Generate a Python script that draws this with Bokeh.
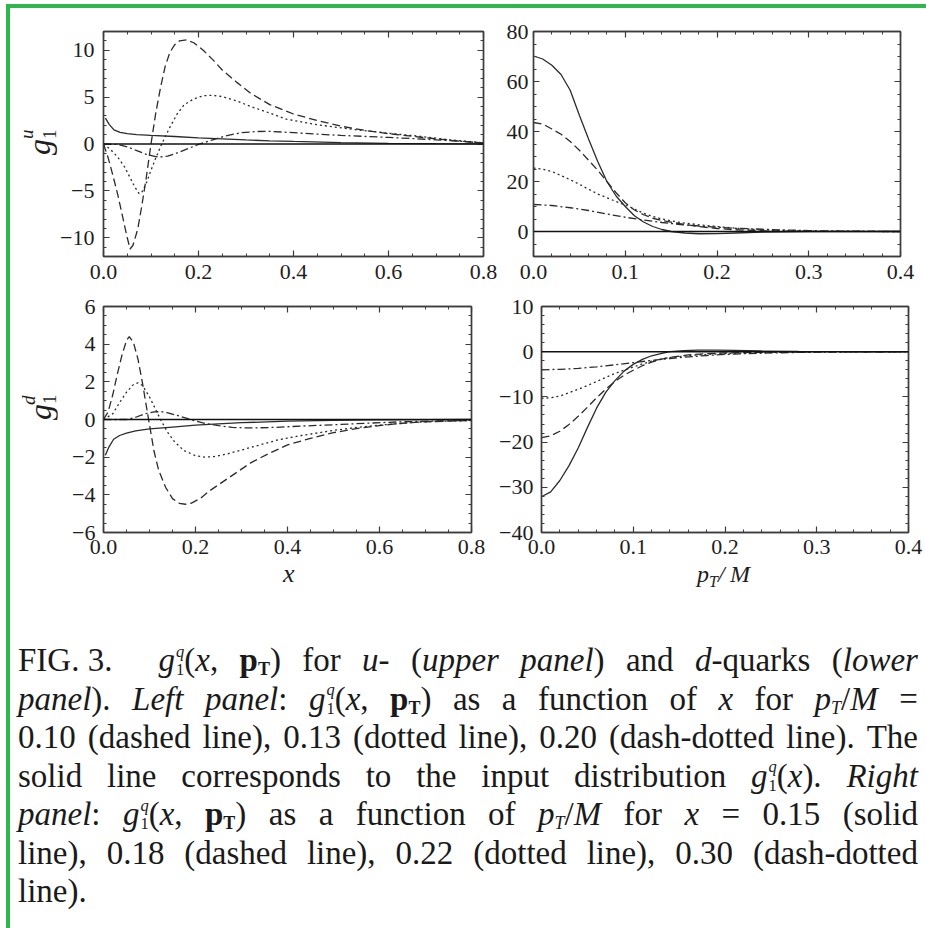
from bokeh.embed import file_html
from bokeh.layouts import column, row
from bokeh.models import (CustomJSTickFormatter, Div, FixedTicker,
                          LinearAxis, Range1d, Span, Spacer)
from bokeh.plotting import figure
from bokeh.resources import INLINE

# ---------------------------------------------------------------- data
# g1^u(x, pT) as a function of x (pT/M = 0.10, 0.13, 0.20) and input g1^u(x)
u_x_solid = [0.004, 0.012, 0.022, 0.035, 0.05, 0.07, 0.1, 0.15, 0.2, 0.25, 0.3, 0.35, 0.4, 0.5, 0.6, 0.7, 0.8]
u_solid = [2.75, 2.1, 1.5, 1.25, 1.1, 1.0, 0.92, 0.8, 0.66, 0.54, 0.43, 0.34, 0.27, 0.15, 0.07, 0.03, 0.01]

u_x_dash = [0, 0.01, 0.02, 0.03, 0.04, 0.05, 0.056, 0.062, 0.072, 0.08, 0.085, 0.09, 0.1, 0.11, 0.12, 0.13,
            0.14, 0.15, 0.16, 0.175, 0.19, 0.21, 0.23, 0.25, 0.28, 0.31, 0.35, 0.4, 0.45, 0.5, 0.55, 0.6,
            0.65, 0.7, 0.75, 0.8]
u_dash = [0, -1.5, -3.4, -5.4, -7.7, -10.0, -11.2, -10.8, -9.1, -6.8, -5.2, -3.6, 0.0, 3.3, 6.0, 8.3,
          9.8, 10.6, 11.0, 11.1, 10.8, 10.0, 9.0, 7.9, 6.6, 5.4, 4.2, 3.2, 2.5, 1.9, 1.45, 1.1,
          0.82, 0.55, 0.3, 0.12]

u_x_dot = [0, 0.015, 0.03, 0.045, 0.055, 0.065, 0.075, 0.08, 0.09, 0.1, 0.11, 0.12, 0.13, 0.14, 0.155,
           0.17, 0.19, 0.21, 0.23, 0.25, 0.28, 0.31, 0.35, 0.385, 0.45, 0.525, 0.6, 0.66, 0.73, 0.8]
u_dot = [0, -0.6, -1.4, -2.5, -3.5, -4.5, -5.3, -5.2, -4.2, -2.8, -1.5, -0.3, 0.8, 1.8, 3.2,
         4.2, 4.8, 5.15, 5.2, 5.05, 4.6, 4.0, 3.3, 2.65, 2.05, 1.56, 1.15, 0.85, 0.45, 0.12]

u_x_dd = [0, 0.03, 0.05, 0.07, 0.09, 0.11, 0.12, 0.135, 0.155, 0.175, 0.2, 0.23, 0.26, 0.29, 0.32, 0.35,
          0.385, 0.45, 0.5, 0.6, 0.7, 0.75, 0.8]
u_dd = [0, -0.05, -0.3, -0.7, -1.1, -1.35, -1.38, -1.3, -0.95, -0.55, -0.05, 0.45, 0.9, 1.2, 1.33, 1.35,
        1.25, 1.05, 0.92, 0.7, 0.45, 0.3, 0.1]

# g1^u(x, pT) as a function of pT/M (x = 0.15, 0.18, 0.22, 0.30)
up_x_solid = [0, 0.01, 0.02, 0.03, 0.04, 0.05, 0.06, 0.07, 0.08, 0.09, 0.1, 0.11, 0.12, 0.13, 0.14, 0.15,
              0.165, 0.18, 0.2, 0.22, 0.25, 0.3, 0.35, 0.4]
up_solid = [70.2, 69.0, 66.5, 62.8, 56.5, 46.5, 37.0, 28.0, 20.0, 14.2, 10.0, 6.3, 3.8, 2.0, 0.8, 0.0,
            -0.6, -0.9, -0.85, -0.6, -0.25, -0.05, 0.0, 0.0]

up_x_dash = [0, 0.01, 0.02, 0.03, 0.04, 0.05, 0.06, 0.07, 0.08, 0.09, 0.1, 0.11, 0.12, 0.13, 0.14, 0.16,
             0.18, 0.2, 0.22, 0.25, 0.3, 0.4]
up_dash = [43.6, 43.0, 41.0, 38.9, 36.0, 32.5, 28.5, 24.5, 20.0, 15.5, 11.5, 8.6, 6.7, 5.3, 4.4, 3.1,
           2.0, 1.2, 0.7, 0.3, 0.05, 0.0]

up_x_dot = [0, 0.01, 0.02, 0.03, 0.04, 0.05, 0.06, 0.07, 0.08, 0.09, 0.1, 0.11, 0.12, 0.13, 0.14, 0.16,
            0.18, 0.2, 0.22, 0.25, 0.3, 0.35, 0.4]
up_dot = [25.4, 24.9, 24.0, 22.4, 20.7, 18.9, 16.9, 15.0, 13.5, 12.0, 10.6, 9.0, 7.3, 6.0, 5.0, 3.6,
          2.7, 2.0, 1.3, 0.6, 0.15, 0.02, 0.0]

up_x_dd = [0, 0.02, 0.04, 0.06, 0.08, 0.1, 0.12, 0.14, 0.16, 0.18, 0.2, 0.22, 0.25, 0.28, 0.3, 0.35, 0.4]
up_dd = [10.8, 10.4, 9.5, 8.4, 7.0, 5.7, 4.6, 3.6, 2.8, 2.2, 1.7, 1.3, 0.9, 0.55, 0.35, 0.1, 0.02]

# g1^d(x, pT) as a function of x (pT/M = 0.10, 0.13, 0.20) and input g1^d(x)
d_x_solid = [0.004, 0.012, 0.022, 0.035, 0.05, 0.07, 0.1, 0.15, 0.2, 0.25, 0.3, 0.4, 0.5, 0.6, 0.7, 0.8]
d_solid = [-1.9, -1.45, -1.05, -0.85, -0.72, -0.6, -0.5, -0.4, -0.3, -0.23, -0.17, -0.09, -0.05, -0.02, -0.01, 0.0]

d_x_dash = [0, 0.01, 0.02, 0.03, 0.04, 0.05, 0.056, 0.065, 0.075, 0.085, 0.098, 0.11, 0.12, 0.135, 0.15,
            0.165, 0.178, 0.19, 0.21, 0.23, 0.26, 0.29, 0.32, 0.36, 0.4, 0.45, 0.5, 0.55, 0.6, 0.65, 0.7, 0.8]
d_dash = [0, 0.4, 1.3, 2.4, 3.4, 4.2, 4.4, 4.1, 3.2, 1.9, 0.0, -1.7, -2.7, -3.6, -4.2,
          -4.45, -4.5, -4.45, -4.2, -3.8, -3.3, -2.8, -2.3, -1.8, -1.35, -1.0, -0.7, -0.48, -0.32, -0.2, -0.12, -0.05]

d_x_dot = [0, 0.02, 0.035, 0.05, 0.065, 0.075, 0.085, 0.1, 0.112, 0.125, 0.14, 0.155, 0.175, 0.2, 0.22,
           0.24, 0.27, 0.3, 0.34, 0.38, 0.43, 0.5, 0.55, 0.6, 0.65, 0.7, 0.8]
d_dot = [0, 0.3, 0.9, 1.45, 1.85, 1.95, 1.8, 1.2, 0.6, -0.05, -0.7, -1.2, -1.65, -1.92, -2.0,
         -1.97, -1.82, -1.62, -1.35, -1.08, -0.85, -0.58, -0.42, -0.3, -0.2, -0.12, -0.05]

d_x_dd = [0, 0.05, 0.07, 0.09, 0.11, 0.125, 0.14, 0.16, 0.18, 0.2, 0.22, 0.25, 0.28, 0.32, 0.37, 0.43,
          0.5, 0.57, 0.65, 0.72, 0.8]
d_dd = [0, 0.0, 0.12, 0.3, 0.4, 0.42, 0.35, 0.22, 0.07, -0.08, -0.2, -0.33, -0.42, -0.45, -0.42, -0.35,
        -0.28, -0.2, -0.12, -0.08, -0.04]

# g1^d(x, pT) as a function of pT/M (x = 0.15, 0.18, 0.22, 0.30)
dp_x_solid = [0, 0.01, 0.02, 0.03, 0.04, 0.05, 0.06, 0.07, 0.08, 0.09, 0.1, 0.11, 0.12, 0.13, 0.14, 0.155,
              0.17, 0.19, 0.21, 0.24, 0.28, 0.4]
dp_solid = [-32.1, -31.0, -28.5, -25.2, -21.3, -16.8, -12.5, -9.0, -6.4, -4.3, -2.8, -1.7, -0.9, -0.4, 0.0, 0.25,
            0.35, 0.37, 0.3, 0.15, 0.05, 0.0]

dp_x_dash = [0, 0.01, 0.02, 0.03, 0.04, 0.05, 0.06, 0.07, 0.08, 0.09, 0.1, 0.11, 0.12, 0.13, 0.14, 0.16,
             0.18, 0.2, 0.23, 0.27, 0.4]
dp_dash = [-19.0, -18.6, -17.6, -16.1, -14.3, -12.3, -10.2, -8.3, -6.6, -5.2, -4.1, -3.1, -2.3, -1.7, -1.25, -0.7,
           -0.45, -0.28, -0.15, -0.06, 0.0]

dp_x_dot = [0, 0.01, 0.02, 0.03, 0.04, 0.05, 0.06, 0.07, 0.08, 0.09, 0.1, 0.11, 0.12, 0.13, 0.14, 0.16,
            0.18, 0.2, 0.23, 0.27, 0.32, 0.4]
dp_dot = [-10.3, -10.2, -9.8, -9.1, -8.3, -7.5, -6.6, -5.7, -4.8, -4.1, -3.4, -2.7, -2.1, -1.65, -1.3, -0.85,
          -0.6, -0.42, -0.25, -0.1, -0.03, 0.0]

dp_x_dd = [0, 0.02, 0.04, 0.06, 0.08, 0.1, 0.12, 0.14, 0.16, 0.18, 0.2, 0.22, 0.25, 0.28, 0.32, 0.4]
dp_dd = [-4.0, -3.9, -3.7, -3.35, -2.9, -2.4, -1.95, -1.5, -1.15, -0.85, -0.6, -0.45, -0.28, -0.15, -0.06, 0.0]

# axis ticks
x_major = [0.0, 0.2, 0.4, 0.6, 0.8]
pt_major = [0.0, 0.1, 0.2, 0.3, 0.4]
u_y_major = [-10, -5, 0, 5, 10]
up_y_major = [0, 20, 40, 60, 80]
d_y_major = [-6, -4, -2, 0, 2, 4, 6]
dp_y_major = [-40, -30, -20, -10, 0, 10]

# ---------------------------------------------------------------- style
SERIF = "Liberation Serif"
INK = "#2b2b2b"
FRAME = "#3c3c3c"
GREEN = "#2eb84b"
STYLES = {"solid": "solid", "dash": "8 4", "dot": "2 3", "dd": "8 3 2 3"}
TICK_FONT = "22px"


def minor_range(lo, hi, step):
    n = int(round((hi - lo) / step))
    return [round(lo + i * step, 6) for i in range(n + 1)]


def make_panel(width, height, borders, xr, yr, xt, xminor, yt, yminor, ystand, xstand):
    left, right, top, bottom = borders
    p = figure(width=width, height=height, output_backend="svg", toolbar_location=None,
               x_range=Range1d(*xr), y_range=Range1d(*yr), x_axis_type=None, y_axis_type=None,
               min_border_left=left, min_border_right=right,
               min_border_top=top, min_border_bottom=bottom)
    p.outline_line_color = FRAME
    p.outline_line_width = 1.4
    p.background_fill_color = "white"
    p.border_fill_color = "white"

    xticker = FixedTicker(ticks=xt, minor_ticks=xminor)
    yticker = FixedTicker(ticks=yt, minor_ticks=yminor)
    xfmt = CustomJSTickFormatter(code="return tick.toFixed(1);")
    yfmt = CustomJSTickFormatter(code="return (tick < 0 ? '\u2212' : '') + Math.abs(tick).toFixed(0);")

    def axis(ticker, fmt, show, standoff):
        ax = LinearAxis(ticker=ticker, major_tick_in=6, major_tick_out=0, minor_tick_in=3, minor_tick_out=0,
                        axis_line_color=FRAME, axis_line_width=1.4,
                        major_tick_line_color=FRAME, minor_tick_line_color=FRAME,
                        major_tick_line_width=1.2, minor_tick_line_width=1.0)
        if show:
            ax.formatter = fmt
            ax.major_label_text_font = SERIF
            ax.major_label_text_font_size = TICK_FONT
            ax.major_label_text_color = "#1e1e1e"
            ax.major_label_standoff = standoff
        else:
            ax.major_label_text_font_size = "0px"
            ax.major_label_text_alpha = 0
            ax.major_label_standoff = 0
        return ax

    p.add_layout(axis(xticker, xfmt, True, xstand), "below")
    p.add_layout(axis(xticker, xfmt, False, 0), "above")
    p.add_layout(axis(yticker, yfmt, True, ystand), "left")
    p.add_layout(axis(yticker, yfmt, False, 0), "right")
    p.add_layout(Span(location=0, dimension="width", line_color="#111111", line_width=1.6))
    return p


def curves(p, series):
    for xs, ys, kind in series:
        p.line(xs, ys, line_color=INK, line_width=1.3, line_dash=STYLES[kind])


# ---------------------------------------------------------------- panels
p_u = make_panel(443, 286, (44, 17, 12, 38), (0, 0.8), (-12, 12),
                 x_major, minor_range(0, 0.8, 0.05), u_y_major, minor_range(-12, 12, 1), 9, 8)
curves(p_u, [(u_x_solid, u_solid, "solid"), (u_x_dash, u_dash, "dash"),
             (u_x_dot, u_dot, "dot"), (u_x_dd, u_dd, "dd")])

p_up = make_panel(426, 286, (33, 26, 23, 36), (0, 0.4), (-10, 80),
                  pt_major, minor_range(0, 0.4, 0.02), up_y_major, minor_range(-10, 80, 5), 5, 8)
curves(p_up, [(up_x_solid, up_solid, "solid"), (up_x_dash, up_dash, "dash"),
              (up_x_dot, up_dot, "dot"), (up_x_dd, up_dd, "dd")])

p_d = make_panel(433, 272, (46, 19, 12, 34), (0, 0.8), (-6, 6),
                 x_major, minor_range(0, 0.8, 0.05), d_y_major, minor_range(-6, 6, 0.5), 8, 7)
curves(p_d, [(d_x_solid, d_solid, "solid"), (d_x_dash, d_dash, "dash"),
             (d_x_dot, d_dot, "dot"), (d_x_dd, d_dd, "dd")])

p_dp = make_panel(436, 272, (51, 18, 11, 34), (0, 0.4), (-40, 10),
                  pt_major, minor_range(0, 0.4, 0.02), dp_y_major, minor_range(-40, 10, 2), 8, 7)
curves(p_dp, [(dp_x_solid, dp_solid, "solid"), (dp_x_dash, dp_dash, "dash"),
              (dp_x_dot, dp_dot, "dot"), (dp_x_dd, dp_dd, "dd")])


# ---------------------------------------------------------------- axis titles (HTML text)
def glyph(txt, size, bx, by, italic=True, rotate=False):
    """Place text so that the start of its baseline sits at (bx, by) inside the box."""
    base = 0.8375 * size
    style = "font-style:italic;" if italic else ""
    if rotate:
        tf = "transform-origin:0 0;transform:translate(%.1fpx,%.1fpx) rotate(-90deg);" % (bx - base, by)
        pos = "left:0;top:0;"
    else:
        tf = ""
        pos = "left:%.1fpx;top:%.1fpx;" % (bx, by - base)
    return ('<span style="position:absolute;%swhite-space:nowrap;font-size:%dpx;line-height:%dpx;%s%s">%s</span>'
            % (pos, size, size, style, tf, txt))


def box(width, height, parts):
    return Div(text='<div style="position:relative;width:%dpx;height:%dpx;font-family:\'Liberation Serif\',serif;'
                    'color:#1e1e1e">%s</div>' % (width, height, "".join(parts)),
               width=width, height=height, margin=0)


ylab_u = box(47, 286, [glyph("g", 32, 40, 147, rotate=True),
                       glyph("1", 19, 46, 131, italic=False, rotate=True),
                       glyph("u", 19, 23, 131, rotate=True)])
ylab_d = box(47, 272, [glyph("g", 32, 41, 126, rotate=True),
                       glyph("1", 19, 46, 110, italic=False, rotate=True),
                       glyph("d", 19, 25, 111, rotate=True)])
xlab = box(916, 36, [glyph("x", 26, 273, 17),
                     glyph("p", 24, 687, 16),
                     glyph("T", 16, 699, 21),
                     glyph("/", 24, 708, 16),
                     glyph("M", 24, 720, 16)])

# ---------------------------------------------------------------- caption
G = ('<i>g</i><span style="display:inline-block;vertical-align:-4px;font-size:16.5px;'
     'line-height:18.5px;margin-left:1px"><span style="display:block"><i>q</i></span>'
     '<span style="display:block">1</span></span>')
PT = '<b>p</b><span style="font-size:18px;vertical-align:-4px"><b>T</b></span>'
PTM = '<i>p</i><span style="font-size:18px;vertical-align:-4px"><i>T</i></span>/<i>M</i>'

caption_lines = [
    ["FIG.&nbsp;3.&nbsp;&nbsp;&nbsp;", G + "(<i>x</i>,", PT + ")", "for", "<i>u</i>-", "(<i>upper</i>",
     "<i>panel</i>)", "and", "<i>d</i>-quarks", "(<i>lower</i>"],
    ["<i>panel</i>).", "<i>Left</i>", "<i>panel</i>:", G + "(<i>x</i>,", PT + ")", "as", "a", "function",
     "of", "<i>x</i>", "for", PTM, "="],
    ["0.10", "(dashed", "line),", "0.13", "(dotted", "line),", "0.20", "(dash-dotted", "line).", "The"],
    ["solid", "line", "corresponds", "to", "the", "input", "distribution", G + "(<i>x</i>).", "<i>Right</i>"],
    ["<i>panel</i>:", G + "(<i>x</i>,", PT + ")", "as", "a", "function", "of", PTM, "for", "<i>x</i>",
     "=", "0.15", "(solid"],
    ["line),", "0.18", "(dashed", "line),", "0.22", "(dotted", "line),", "0.30", "(dash-dotted"],
    ["line)."],
]

html_lines = []
for i, toks in enumerate(caption_lines):
    last = i == len(caption_lines) - 1
    justify = "flex-start" if last else "space-between"
    spans = "".join('<span style="white-space:nowrap">%s</span>' % t for t in toks)
    html_lines.append('<div style="display:flex;justify-content:%s;align-items:baseline;'
                      'width:900px;height:38.5px;white-space:nowrap">%s</div>' % (justify, spans))

caption = Div(text='<div style="font-family:\'Liberation Serif\',serif;font-size:33px;line-height:38.5px;'
                   'color:#1a1a1a;padding:39px 8px 0 8px">' + "".join(html_lines) + "</div>",
              width=916, height=326, margin=0)

# ---------------------------------------------------------------- layout
top_bar = Div(text="", width=920, height=4, margin=0, styles={"background-color": GREEN})
left_bar = Div(text="", width=4, height=920, margin=0, styles={"background-color": GREEN})
body = column(row(ylab_u, p_u, p_up, spacing=0),
              row(ylab_d, p_d, p_dp, spacing=0),
              xlab, caption, spacing=0)
page = column(Spacer(width=926, height=4, margin=0),
              row(Spacer(width=6, height=924, margin=0),
                  column(top_bar, row(left_bar, body, spacing=0), spacing=0), spacing=0),
              spacing=0)

open("out.html", "w").write(file_html(page, INLINE))
